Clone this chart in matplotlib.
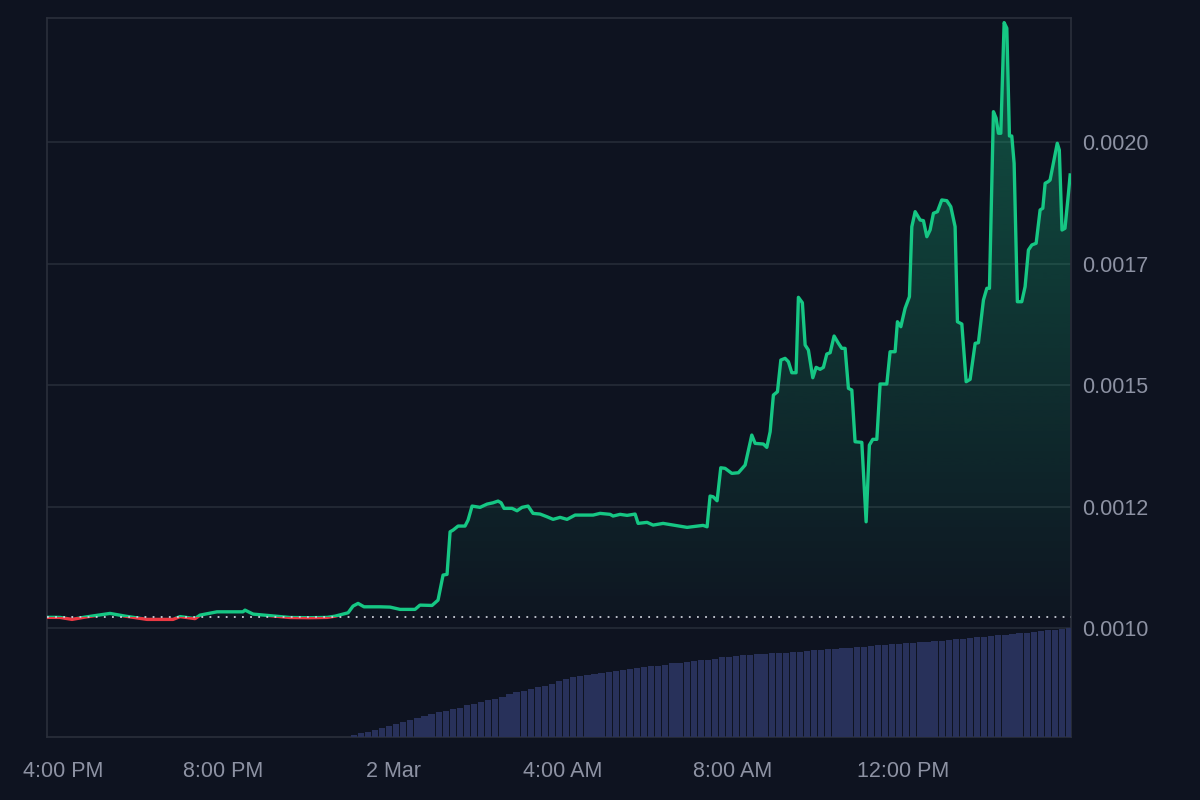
import numpy as np
import pandas as pd
import matplotlib
matplotlib.use("Agg")
import matplotlib.pyplot as plt
import matplotlib.dates as mdates
import matplotlib.transforms as mtransforms
from matplotlib.patches import Rectangle
from matplotlib.path import Path
from matplotlib.colors import to_rgb

# minutes after 1 Mar 4:00 PM, and price
minutes = [-8.5, 9.9, 26.8, 45, 80.5, 101.6, 132.7, 169.4, 179.3, 200.5, 207.5,
           231.5, 268.2, 271, 282.4, 310.6, 334.6, 362.8, 386.8, 398, 416.5, 423.5,
           430.6, 439, 450.4, 461.7, 475.8, 489.9, 511, 518, 535, 543.5, 550.6,
           556.2, 560.5, 564.7, 571.8, 581.6, 585.9, 591.5, 602.8, 612.7, 621.2,
           628.2, 632.5, 636.7, 648, 655, 662.1, 670.6, 677.6, 687.5, 697.4,
           705.9, 715.8, 725.6, 737, 762.4, 772.2, 786.4, 790.6, 800.5, 810.4,
           821.7, 825.9, 838.6, 847.1, 861.2, 875.3, 895.1, 917.6, 923.3, 927.5,
           931.8, 937.4, 942.6, 948.7, 958.2, 967.5, 977, 986.4, 991.1, 1002.8,
           1007.6, 1012.3, 1016.9, 1022.6, 1027.4, 1033.4, 1038.1, 1042.9,
           1048.9, 1052.2, 1057.8, 1061.7, 1066.3, 1072.5, 1077.2, 1082.8,
           1087.5, 1092.3, 1097, 1102.6, 1108.7, 1113.4, 1118.1, 1122.8, 1127.6,
           1132.2, 1141.7, 1147.8, 1152.4, 1157.2, 1162.9, 1167.5, 1177, 1181.6,
           1188.7, 1192, 1196.8, 1202.8, 1208.9, 1212.3, 1217, 1224, 1228.7,
           1233.5, 1238.1, 1242.8, 1248.4, 1254.6, 1261.7, 1267.3, 1273.4,
           1276.7, 1282.9, 1289, 1294.6, 1301.7, 1306.3, 1313.4, 1318.2, 1321.9,
           1327.5, 1331.3, 1334.5, 1337.9, 1342.6, 1346.4, 1350.1, 1353.4,
           1356.7, 1361.3, 1367.5, 1372.2, 1376.9, 1381.7, 1387.8, 1393.4,
           1397.2, 1400.5, 1404.7, 1407.5, 1417.6, 1420.5, 1424.3, 1428.5,
           1433.4, 1435.8]
price = [0.0010222, 0.0010220, 0.0010179, 0.0010226, 0.0010302, 0.0010247,
         0.0010179, 0.0010179, 0.0010237, 0.0010195, 0.0010267, 0.0010335,
         0.0010335, 0.0010370, 0.0010288, 0.0010250, 0.0010218, 0.0010214,
         0.0010220, 0.0010245, 0.0010315, 0.0010453, 0.0010508, 0.0010438,
         0.0010438, 0.0010438, 0.0010432, 0.0010385, 0.0010385, 0.0010473,
         0.0010466, 0.0010576, 0.0011091, 0.0011105, 0.0011981, 0.0012016,
         0.0012099, 0.0012099, 0.0012222, 0.0012510, 0.0012484, 0.0012551,
         0.0012578, 0.0012613, 0.0012578, 0.0012463, 0.0012463, 0.0012414,
         0.0012484, 0.0012510, 0.0012360, 0.0012346, 0.0012290, 0.0012237,
         0.0012278, 0.0012237, 0.0012325, 0.0012325, 0.0012360, 0.0012340,
         0.0012305, 0.0012340, 0.0012319, 0.0012346, 0.0012154, 0.0012175,
         0.0012119, 0.0012154, 0.0012119, 0.0012072, 0.0012113, 0.0012084,
         0.0012716, 0.0012702, 0.0012619, 0.0013298, 0.0013286, 0.0013183,
         0.0013196, 0.0013354, 0.0013971, 0.0013800, 0.0013786, 0.0013718,
         0.0014039, 0.0014794, 0.0014862, 0.0015514, 0.0015549, 0.0015479,
         0.0015253, 0.0015253, 0.0016804, 0.0016693, 0.0015823, 0.0015720,
         0.0015150, 0.0015364, 0.0015323, 0.0015364, 0.0015638, 0.0015665,
         0.0016008, 0.0015858, 0.0015755, 0.0015755, 0.0014932, 0.0014897,
         0.0013833, 0.0013821, 0.0012187, 0.0013765, 0.0013883, 0.0013883,
         0.0015021, 0.0015021, 0.0015685, 0.0015685, 0.0016302, 0.0016200,
         0.0016578, 0.0016817, 0.0018257, 0.0018566, 0.0018395, 0.0018381,
         0.0018051, 0.0018189, 0.0018533, 0.0018566, 0.0018807, 0.0018792,
         0.0018669, 0.0018257, 0.0016302, 0.0016255, 0.0015068, 0.0015117,
         0.0015858, 0.0015870, 0.0016749, 0.0016990, 0.0016990, 0.0020623,
         0.0020490, 0.0020179, 0.0020179, 0.0022455, 0.0022340, 0.0020123,
         0.0020123, 0.0019562, 0.0016714, 0.0016714, 0.0017023, 0.0017778,
         0.0017881, 0.0017916, 0.0018601, 0.0018636, 0.0019150, 0.0019183,
         0.0019218, 0.0019973, 0.0019835, 0.0018189, 0.0018224, 0.0018944,
         0.0019321]

# cumulative volume (relative units), one bar per 10 minutes from 11:00 PM
volume = [2, 3.5, 5, 6.5, 8.5, 10.5, 12, 14, 15.5, 17.5, 19.5, 21, 22.5, 24,
          25.5, 27, 29, 30.5, 32, 33.5, 35, 37, 39, 41, 42.5, 44, 45.5, 47, 49,
          51, 53, 55, 56, 57, 58, 59, 60, 60.5, 61.5, 62.5, 63.5, 64, 65, 65.5,
          66.5, 67.5, 68, 69, 69.5, 70.5, 71, 72, 73, 73.5, 74.5, 75, 75.5, 76,
          76.5, 77, 77, 77.5, 78, 78, 78.5, 79.5, 80, 80.5, 81, 81.5, 82, 82.5,
          83, 83.5, 84, 84.5, 85, 85.5, 86, 86.5, 87, 87.5, 88, 88.5, 89, 89.5,
          90, 90.5, 91.5, 92, 92.5, 93.5, 94, 94.5, 95, 95.5, 96.5, 97, 98,
          98.5, 99, 100]

start_price = 0.0010233
ytick_vals = [0.0010, 0.00125, 0.0015, 0.00175, 0.0020]
ytick_labels = ["0.0010", "0.0012", "0.0015", "0.0017", "0.0020"]
xtick_times = ["2024-03-01 16:00", "2024-03-01 20:00", "2024-03-02 00:00",
               "2024-03-02 04:00", "2024-03-02 08:00", "2024-03-02 12:00"]
xtick_labels = ["4:00 PM", "8:00 PM", "2 Mar", "4:00 AM", "8:00 AM", "12:00 PM"]

bg = "#0e1320"
green = "#16c784"
red = "#ea3943"
txt = "#8d92a3"
edge = "#2a2f3b"

plt.rcParams["font.family"] = ["Liberation Sans", "DejaVu Sans"]

t0 = pd.Timestamp("2024-03-01 16:00")
t = t0 + pd.to_timedelta(minutes, unit="min")
x = mdates.date2num(t.to_pydatetime())
p = np.array(price)
vt = pd.date_range("2024-03-01 23:00", periods=len(volume), freq="10min")
vx = mdates.date2num(vt.to_pydatetime())

xmin = mdates.date2num(t0 + pd.Timedelta(minutes=-8.5))
xmax = mdates.date2num(t0 + pd.Timedelta(minutes=1437))
ymin, ymax = 0.000776, 0.002255

fig = plt.figure(figsize=(12, 8), dpi=100, facecolor=bg)
ax = fig.add_axes([47 / 1200, 63 / 800, 1024 / 1200, 719 / 800])
ax.set_facecolor(bg)

for v in ytick_vals:
    ax.axhline(v, color="#262c38", lw=1.2, zorder=1)

# gradient fill between line and start price
poly = ax.fill_between(x, p, start_price, where=p >= start_price,
                       interpolate=True, color="none", lw=0)
ny = 256
frac = np.linspace(0, 1, ny).reshape(-1, 1)
rgba = np.zeros((ny, 1, 4))
rgba[..., :3] = to_rgb(green)
rgba[..., 3] = 0.02 + 0.34 * frac
img = ax.imshow(rgba, extent=[xmin, xmax, start_price, ymax], origin="lower",
                aspect="auto", zorder=2, interpolation="bilinear")
img.set_clip_path(Path.make_compound_path(*poly.get_paths()), ax.transData)
ax.set_xlim(xmin, xmax)
ax.set_ylim(ymin, ymax)

# price line, green above start price, red below
lg, = ax.plot(x, p, color=green, lw=2.4, zorder=4, solid_joinstyle="round")
lr, = ax.plot(x, p, color=red, lw=2.4, zorder=4, solid_joinstyle="round")
lg.set_clip_path(Rectangle((xmin, start_price), xmax - xmin, 1,
                           transform=ax.transData))
lr.set_clip_path(Rectangle((xmin, 0), xmax - xmin, start_price,
                           transform=ax.transData))

ax.axhline(start_price, color="#c9cdd6", lw=1.3, ls=(0, (1, 3.5)), zorder=5)

# volume bars in the bottom strip
ax2 = ax.twinx()
ax2.set_ylim(0, max(volume) / 0.1516)
ax2.bar(vx, volume, width=(10 / 1440) * 0.88, align="edge",
        color="#28315a", lw=0, zorder=1)
ax2.axis("off")
ax2.set_xlim(xmin, xmax)

ax.yaxis.tick_right()
ax.set_yticks(ytick_vals)
ax.set_yticklabels(ytick_labels)
ax.set_xticks(mdates.date2num(pd.to_datetime(xtick_times).to_pydatetime()))
ax.set_xticklabels(xtick_labels)
ax.tick_params(axis="y", length=0, pad=8, labelsize=15.5, colors=txt)
ax.tick_params(axis="x", length=0, pad=17, labelsize=15.5, colors=txt)
first = ax.get_xticklabels()[0]
first.set_transform(first.get_transform() +
                    mtransforms.ScaledTranslation(0.1, 0, fig.dpi_scale_trans))
for s in ax.spines.values():
    s.set_color(edge)
    s.set_linewidth(1.2)

fig.savefig("out.png", dpi=100, facecolor=bg)
